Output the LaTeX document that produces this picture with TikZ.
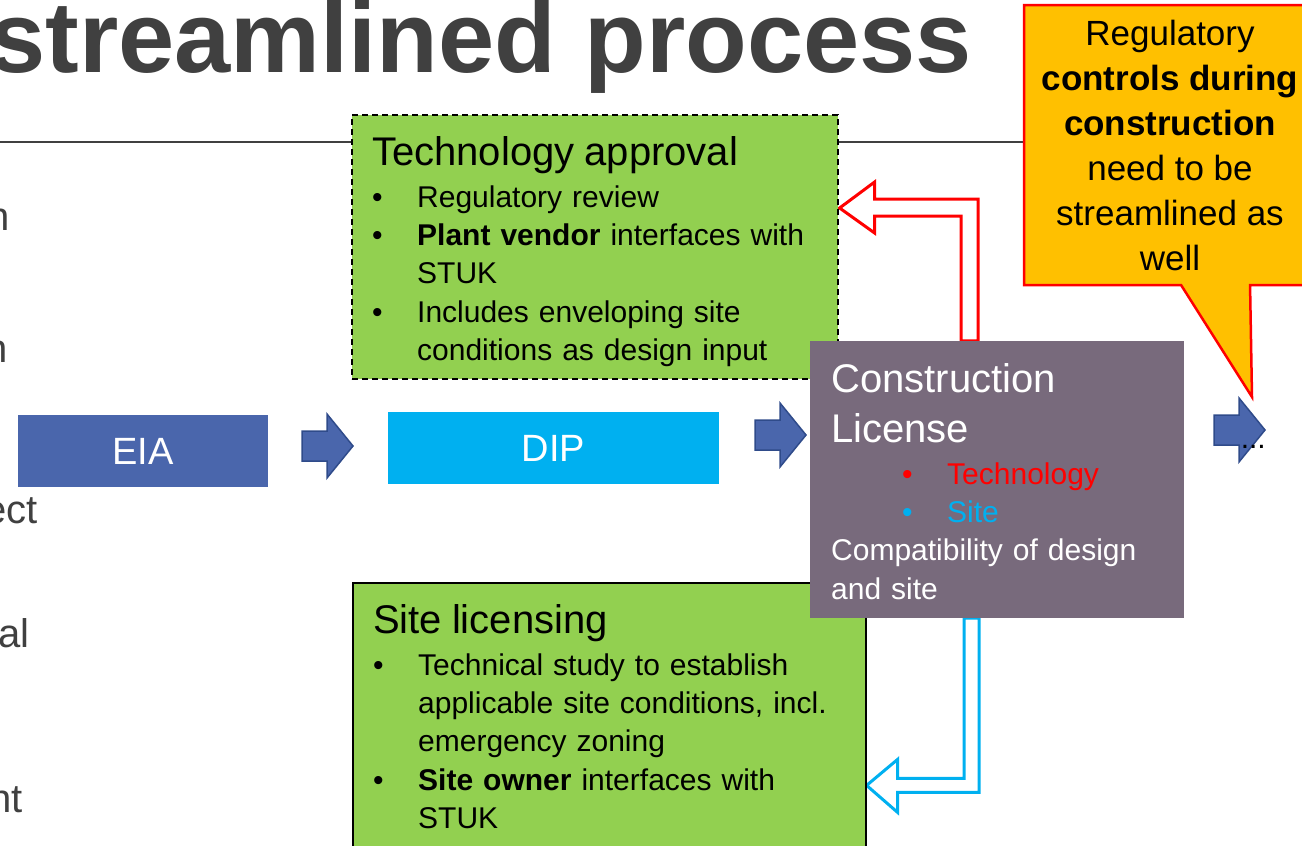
\documentclass[tikz,border=0pt]{standalone}
\usepackage{fontspec}
\setmainfont{Liberation Sans}
\usetikzlibrary{positioning}
\usetikzlibrary{calc}
\usetikzlibrary{shapes.callouts}
\usetikzlibrary{backgrounds}
\definecolor{eiablue}{HTML}{4A66AC}
\definecolor{rimblue}{HTML}{2F4B8A}
\definecolor{dipcyan}{HTML}{00B0F0}
\definecolor{boxgreen}{HTML}{92D050}
\definecolor{licmauve}{HTML}{786A7C}
\definecolor{noteamber}{HTML}{FFC000}
\definecolor{darkgrey}{HTML}{404040}
\tikzset{
  fatarrow/.pic = {
    \filldraw[fill=eiablue, draw=rimblue, line width=1.5pt, line join=miter]
      (0,0) -- (-26,-32) -- (-26,-15) -- (-51,-15) -- (-51,15) -- (-26,15) -- (-26,32) -- cycle;
  }
}
\newcommand{\head}[1]{\noindent{\fontsize{40}{50}\selectfont #1\par}\vskip3.7pt\relax}
\newcommand{\itm}{\par\hangindent=45pt\relax\hangafter=1\relax\noindent\makebox[45pt][l]{\textbullet}}
\newcommand{\citm}[2]{\par\noindent\hspace*{71pt}\textcolor{#1}{\makebox[45pt][l]{\textbullet}#2}}

\begin{document}
\begin{tikzpicture}[x=1pt, y=-1pt,
step_style/.style={rectangle, inner sep=0pt, minimum height=72pt, text=white, font=\fontsize{38}{44}\selectfont},
note_style/.style={rectangle, inner sep=0pt, fill=boxgreen, draw=black, line width=1.2pt},
text_style/.style={anchor=north west, inner sep=0pt, text width=470pt, font=\fontsize{30}{38.3}\selectfont},
frag_style/.style={anchor=base east, inner sep=0pt, text=darkgrey, font=\fontsize{40}{48}\selectfont},
hollow_style/.style={draw=#1, fill=white, line width=3pt, line join=miter}]

\useasboundingbox (0,0) rectangle (1302,846);
\clip (0,0) rectangle (1302,846);

\node[anchor=base east, inner sep=0pt, text=darkgrey, font=\bfseries\fontsize{101}{110}\selectfont] (title) at (972,72) {streamlined process};
\draw[darkgrey, line width=2pt] (0,142) -- (1024,142);

\foreach \txt/\x/\y [count=\i] in {n/10/230, n/8/362, ect/38/523, al/30/647, nt/23/812}
  \node[frag_style] (frag\i) at (\x,\y) {\txt};

\node[note_style, dash pattern=on 6pt off 4pt, minimum width=486pt, minimum height=264pt] (tech) at (595,247) {};
\node[note_style, minimum width=513pt, minimum height=287pt] (site) at (609.5,726.5) {};

\node[text_style] (techtext) at (372,136) {\head{Technology approval}
  \itm Regulatory review
  \itm \textbf{Plant vendor} interfaces with\newline STUK
  \itm Includes enveloping site\newline conditions as design input\par};
\node[text_style] (sitetext) at (373,604) {\head{Site licensing}
  \itm Technical study to establish\newline applicable site conditions, incl.\newline emergency zoning
  \itm \textbf{Site owner} interfaces with\newline STUK\par};

\node[rectangle, inner sep=0pt, fill=licmauve, minimum width=374pt, minimum height=277pt] (cons) at (997,479.5) {};
\node[text_style, text=white] (constext) at (831,363) {\head{Construction\newline License}
  \citm{red}{Technology}
  \citm{dipcyan}{Site}
  \par\noindent Compatibility of design\newline and site\par};

\begin{scope}[on background layer]
\coordinate (redtip) at ($(tech.east)+(1,-39)$);
\draw[hollow_style=red] (redtip) -- ++(35,-26) -- ++(0,17) -| ($(cons.north)+(-19,0)$)
  -- ($(cons.north)+(-36,0)$) |- ($(redtip)+(35,8)$) -- ++(0,17) -- cycle;
\coordinate (bluetip) at ($(site.north east)+(0,203)$);
\draw[hollow_style=dipcyan] (bluetip) -- ++(31,-26) -- ++(0,19) -| ($(cons.south)+(-33,0)$)
  -- ($(cons.south)+(-18,0)$) |- ($(bluetip)+(31,7)$) -- ++(0,20) -- cycle;
\end{scope}

\node[step_style, fill=eiablue, minimum width=250pt] (eia) at (143,451) {EIA};
\node[step_style, fill=dipcyan, minimum width=331pt] (dip) at (553.5,448) {DIP};

\foreach \x/\y in {353/446, 806/435, 1265/430}
  \pic at (\x,\y) {fatarrow};

\node[rectangle callout, fill=noteamber, draw=red, line width=2.5pt, inner sep=0pt,
  minimum width=292pt, minimum height=280pt, callout absolute pointer={(1252,397)},
  callout pointer width=69pt, align=center, font=\fontsize{35}{45}\selectfont] (note) at (1170,145)
  {Regulatory\\\textbf{controls during}\\\textbf{construction}\\need to be\\streamlined as\\well};

\node[anchor=base east, inner sep=0pt, font=\fontsize{30}{36}\selectfont] (more) at (1266,448) {...};
\end{tikzpicture}
\end{document}
